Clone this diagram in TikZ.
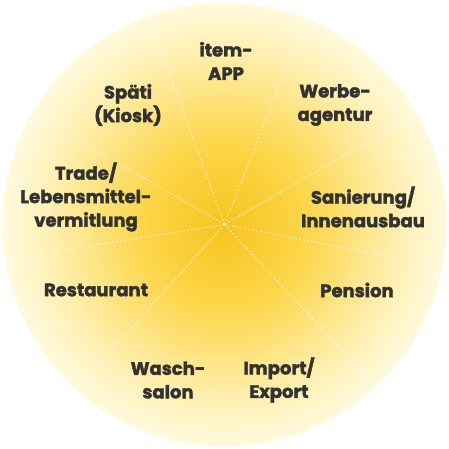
\documentclass[tikz,border=0pt]{standalone}
\usepackage{fontspec}
\setmainfont{Poppins}[BoldFeatures={FakeBold=2}]
\usetikzlibrary{calc}
\definecolor{glowcore}{RGB}{247,196,30}
\definecolor{glowmid}{RGB}{252,214,75}
\definecolor{glowlight}{RGB}{255,240,180}
\definecolor{glowedge}{RGB}{255,250,222}
\definecolor{labelgray}{RGB}{50,50,48}
\pgfdeclareradialshading{sunglow}{\pgfpoint{0bp}{0bp}}{color(0bp)=(glowcore); color(9.5bp)=(glowmid); color(20bp)=(glowlight); color(25bp)=(glowedge); color(50bp)=(glowedge)}
\tikzset{
  branch/.style={align=center, text=labelgray, font=\fontsize{18}{23.5}\selectfont\bfseries},
  spoke/.style={white, line width=0.6pt, dash pattern=on 2pt off 2pt}
}

\begin{document}
\begin{tikzpicture}[x=1pt, y=1pt]
			%%%%% START %%%%%
			\useasboundingbox (0, 0) rectangle (449, 449);
			
			\coordinate (c) at (224.5, 224.5);
			\shade[shading=sunglow] (c) circle (222);
			
			\draw[spoke] (c) -- ($(c)+(110:222)$);
			\draw[spoke] (c) -- ($(c)+(68.5:222)$);
			\draw[spoke] (c) -- ($(c)+(30:222)$);
			\draw[spoke] (c) -- ($(c)+(-11:222)$);
			\draw[spoke] (c) -- ($(c)+(-47:222)$);
			\draw[spoke] (c) -- ($(c)+(-132:222)$);
			\draw[spoke] (c) -- ($(c)+(189:222)$);
			\draw[spoke] (c) -- ($(c)+(150:222)$);
			
			\node[branch] (itemapp) at (226, 388) {item-\\APP};
			\node[branch] (werbe) at (335, 344) {Werbe-\\agentur};
			\node[branch] (sanierung) at (363, 242) {Sanierung/\\Innenausbau};
			\node[branch] (pension) at (357, 159) {Pension};
			\node[branch] (import) at (279, 69) {Import/\\Export};
			\node[branch] (wasch) at (168, 69) {Wasch-\\salon};
			\node[branch] (restaurant) at (96, 159) {Restaurant};
			\node[branch] (trade) at (86, 252) {Trade/\\Lebensmittel-\\vermitlung};
			\node[branch] (spaeti) at (128, 344) {Späti\\(Kiosk)};
			
			%%%%% END %%%%%
\end{tikzpicture}
\end{document}
